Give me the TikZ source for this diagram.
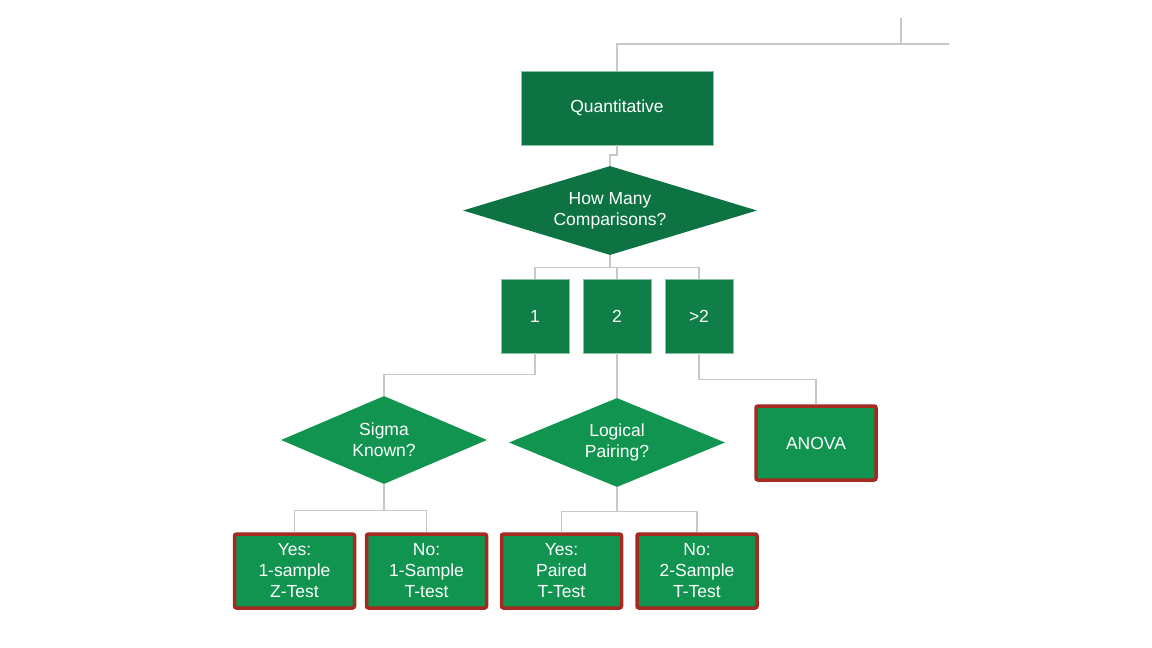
\documentclass[tikz,border=0pt]{standalone}
\usepackage{fontspec}
\setmainfont{Liberation Sans}
\usetikzlibrary{shapes.geometric,calc}
\definecolor{gdark}{HTML}{0D7343}
\definecolor{gmid}{HTML}{0F7F47}
\definecolor{glight}{HTML}{11944F}
\definecolor{redb}{HTML}{A52A22}
\definecolor{conn}{HTML}{C8C8C8}
\definecolor{thinb}{HTML}{8CC4A3}
\tikzset{
  txt/.style={text=white, font=\fontsize{17.5}{21}\selectfont, align=center, inner sep=0pt},
  topbox/.style={txt, rectangle, fill=gdark, draw=thinb, line width=0.6pt, minimum width=192pt, minimum height=74pt},
  smallbox/.style={txt, rectangle, fill=gmid, draw=thinb, line width=0.6pt, minimum width=68pt, minimum height=74pt},
  dia/.style={txt, diamond, draw=none},
  leaf/.style={txt, rectangle, fill=glight, draw=redb, line width=3.5pt, rounded corners=2pt, minimum width=120pt, minimum height=74pt},
  link/.style={draw=conn, line width=1.4pt}
}
\begin{document}
\begin{tikzpicture}[x=1pt,y=-1pt]
\useasboundingbox (0,0) rectangle (1152,648);
% nodes
\node[topbox] (q) at (617,108) {Quantitative};
\node[dia, fill=gdark, minimum width=294pt, minimum height=89pt, aspect=3.3] (d1) at (610,210.5) {How Many\\Comparisons?};
\node[smallbox] (b1) at (535,316) {1};
\node[smallbox] (b2) at (617,316) {2};
\node[smallbox] (b3) at (699,316) {>2};
\node[dia, fill=glight, minimum width=206pt, minimum height=88pt, aspect=2.34] (s) at (384,440) {Sigma\\Known?};
\node[dia, fill=glight, minimum width=216pt, minimum height=89pt, aspect=2.43] (l) at (617,442.5) {Logical\\Pairing?};
\node[leaf, minimum width=120pt, minimum height=74pt] (an) at (816,443) {ANOVA};
\node[leaf] (ya) at (294.5,571) {Yes:\\1-sample\\Z-Test};
\node[leaf] (na) at (426.5,571) {No:\\1-Sample\\T-test};
\node[leaf] (yb) at (561.5,571) {Yes:\\Paired\\T-Test};
\node[leaf] (nb) at (697,571) {No:\\2-Sample\\T-Test};
% free ends at top
\coordinate (topc) at (901,18);
\coordinate (rend) at (949,44);
% connectors
\draw[link] (topc) -- (topc |- rend);
\draw[link] (rend) -| (q.north);
\draw[link] (q.south) -- ++(0,9.5) -| (d1.north);
\draw[link] (d1.south) -- ++(0,12) coordinate (d1b);
\draw[link] (b1.north) |- (d1b) -| (b3.north);
\draw[link] (b2.north) -- (b2.north |- d1b);
\draw[link] (b1.south) -- ++(0,21) -| (s.north);
\draw[link] (b2.south) -- (l.north);
\draw[link] (b3.south) -- ++(0,26) -| (an.north);
\draw[link] (s.south) -- ++(0,26) coordinate (sb);
\draw[link] (ya.north) |- (sb) -| (na.north);
\draw[link] (l.south) -- ++(0,24) coordinate (lb);
\draw[link] (yb.north) |- (lb) -| (nb.north);
\end{tikzpicture}
\end{document}
